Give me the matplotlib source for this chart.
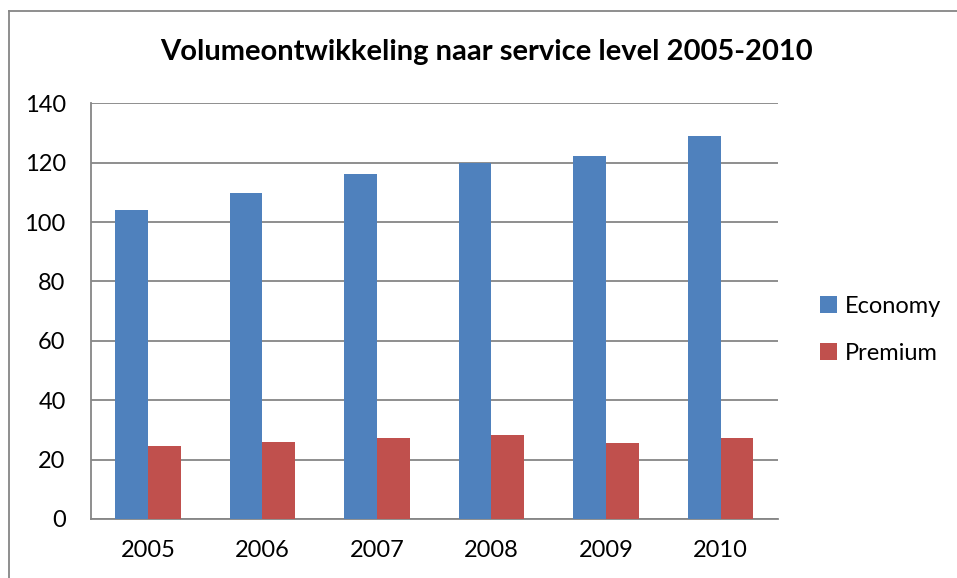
import numpy as np
import matplotlib
matplotlib.use("Agg")
import matplotlib.pyplot as plt
from matplotlib.lines import Line2D

# data
years = ["2005", "2006", "2007", "2008", "2009", "2010"]
economy = [104.2, 109.8, 116.2, 120.0, 122.2, 129.0]
premium = [24.7, 26.0, 27.4, 28.2, 25.6, 27.4]
series_names = ["Economy", "Premium"]
colors = ["#4F81BD", "#C0504D"]
yticks = [0, 20, 40, 60, 80, 100, 120, 140]

plt.rcParams['font.family'] = ['Lato', 'DejaVu Sans']

fig = plt.figure(figsize=(9.57, 5.78), dpi=100)
ax = fig.add_axes([0.0948, 0.1021, 0.7179, 0.7192])

x = np.arange(len(years))
w = 1 / 3.5
ax.bar(x - w / 2, economy, width=w, color=colors[0], label=series_names[0], zorder=3)
ax.bar(x + w / 2, premium, width=w, color=colors[1], label=series_names[1], zorder=3)

ax.set_xlim(-0.5, len(years) - 0.5)
ax.set_ylim(0, 140)
ax.set_yticks(yticks)
ax.set_xticks(x)
ax.set_xticklabels(years)
ax.tick_params(axis='both', length=0, labelsize=17, labelcolor='black')
ax.tick_params(axis='y', pad=18)
ax.tick_params(axis='x', pad=15)
ax.grid(axis='y', color='#868686', linewidth=1.3, zorder=0)

for s in ['top', 'right']:
    ax.spines[s].set_visible(False)
for s in ['left', 'bottom']:
    ax.spines[s].set_color('#868686')
    ax.spines[s].set_linewidth(1.3)

fig.suptitle("Volumeontwikkeling naar service level 2005-2010", x=0.508, y=0.91,
             va='center', fontsize=21, fontweight='bold')

ax.legend(loc='center left', bbox_to_anchor=(1.0, 0.455), frameon=False,
          fontsize=17, handlelength=0.7, handleheight=0.7, labelspacing=1.1,
          handletextpad=0.35, borderaxespad=1.4)

# chart border (left and top edges visible)
fig.add_artist(Line2D([8.5 / 957, 8.5 / 957], [0, 1 - 11 / 578], transform=fig.transFigure,
                      color='#868686', linewidth=1.3))
fig.add_artist(Line2D([8.5 / 957, 1], [1 - 11 / 578, 1 - 11 / 578], transform=fig.transFigure,
                      color='#868686', linewidth=1.3))

fig.savefig("out.png", dpi=100)
